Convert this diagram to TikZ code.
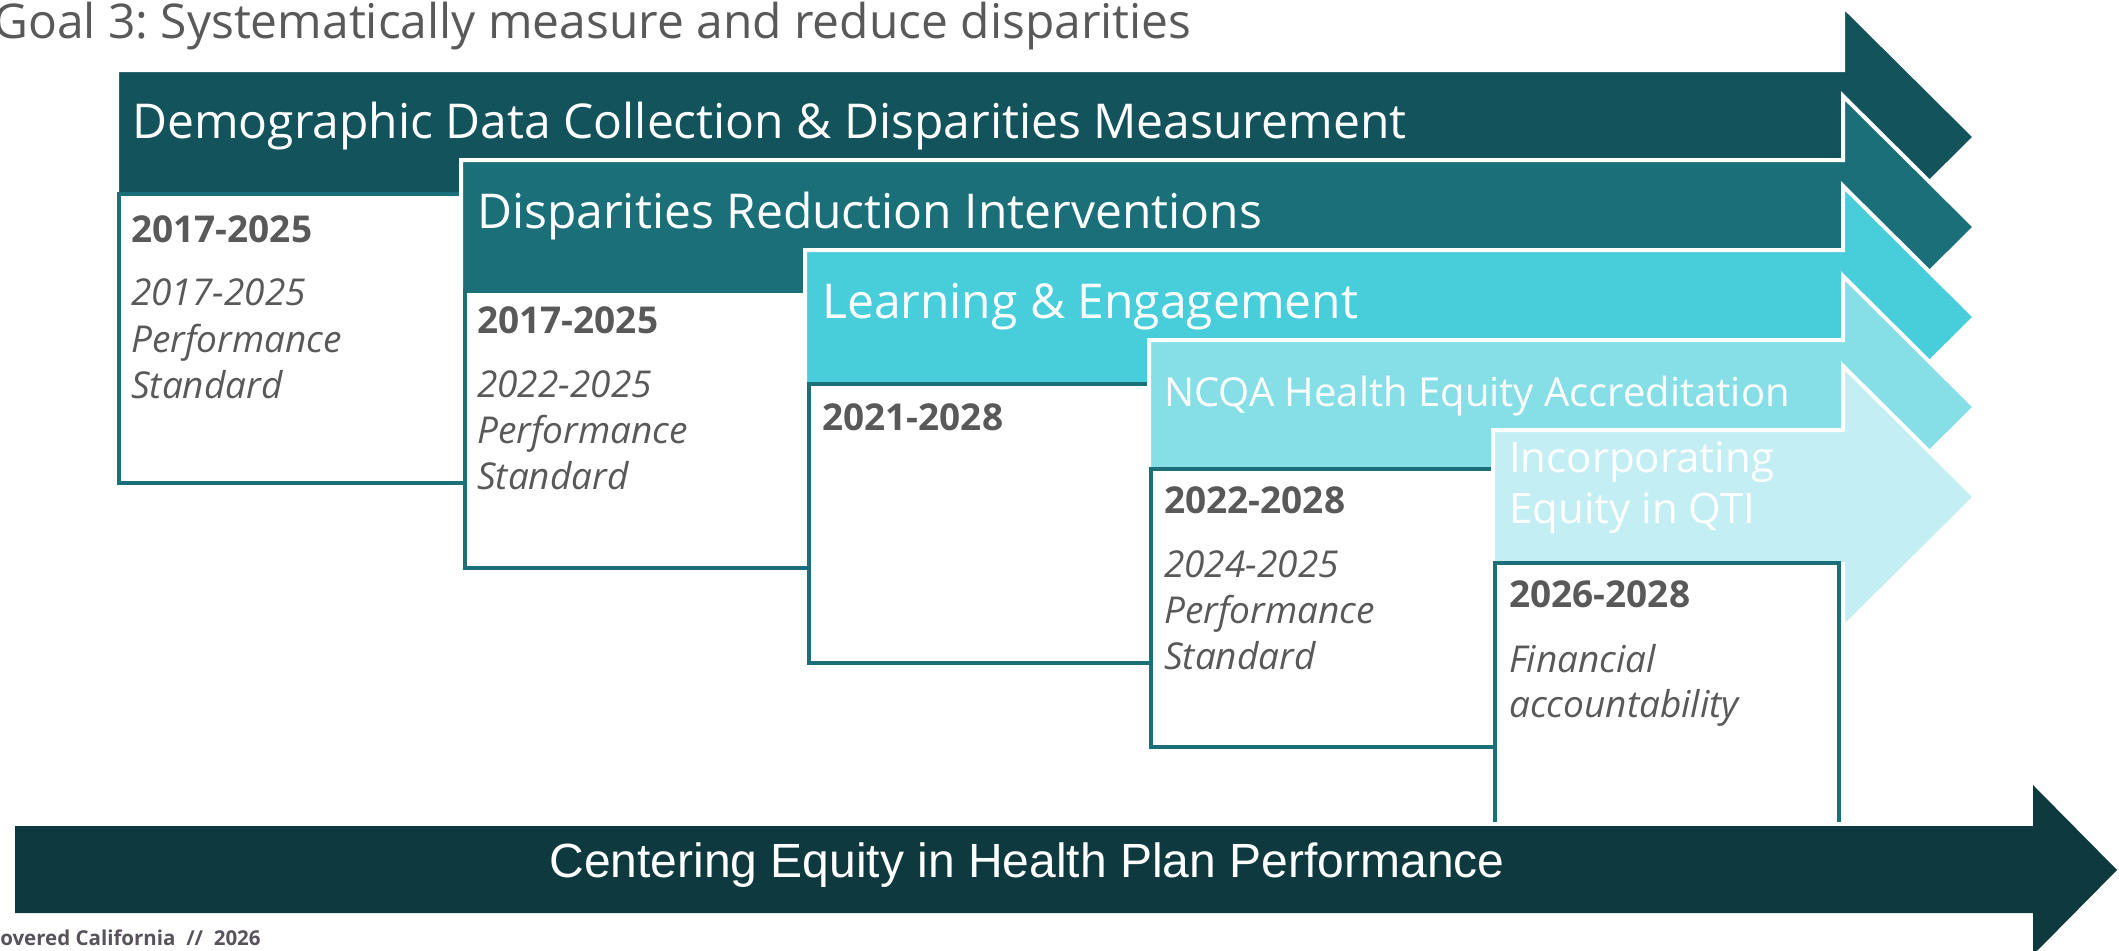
\documentclass[tikz,border=0pt]{standalone}
\usepackage{fontspec}
\setmainfont{Open Sans}
\newfontfamily\arialf{Liberation Sans}
\frenchspacing
\definecolor{bandA}{HTML}{13535C}
\definecolor{bandB}{HTML}{1A6F79}
\definecolor{bandC}{HTML}{48CDDB}
\definecolor{bandD}{HTML}{86DFE7}
\definecolor{bandE}{HTML}{C3EEF3}
\definecolor{boxc}{HTML}{1B6F78}
\definecolor{bottomc}{HTML}{0E393F}
\definecolor{txtgray}{HTML}{595959}
\definecolor{footgray}{HTML}{58535A}
\newcommand{\bandarrow}[4]{%
  \filldraw[band, fill=#3] ({#1},{#2-67}) -- (1843,{#2-67}) -- (1843,{#2-131}) -- (1975,{#2}) -- (1843,{#2+131}) -- (1843,{#2+67}) -- ({#1},{#2+67}) -- cycle;}
\tikzset{
  band/.style={draw=white, line width=4pt, line join=miter},
  boxline/.style={draw=boxc, line width=4pt, fill=white},
  bandtxt/.style={anchor=base west, inner sep=0pt, text=white, font=\fontsize{48}{58}\selectfont},
  bandtxtsm/.style={anchor=base west, inner sep=0pt, text=white, font=\fontsize{42}{51}\selectfont},
  yearb/.style={anchor=base west, inner sep=0pt, text=txtgray, font=\fontsize{37}{46}\selectfont\bfseries},
  yeari/.style={anchor=base west, inner sep=0pt, text=txtgray, font=\fontsize{37}{46}\selectfont\itshape},
}
\begin{document}
\begin{tikzpicture}[x=1pt,y=-1pt]
\useasboundingbox (0,0) rectangle (2119,950);
\node[anchor=base west, inner sep=0pt, text=txtgray, font=\fontsize{47.9}{56}\selectfont] (title) at (-7,38) {Goal 3: Systematically measure and reduce disparities};
% arrow 1 and box 1
\bandarrow{117}{137}{bandA}{}
\node[bandtxt] (t1) at (132,138) {Demographic Data Collection \& Disparities Measurement};
\draw[boxline] (119,194) rectangle (465,483);
\node[yearb] (y1) at (131,242) {2017-2025};
\node[yeari] (i1a) at (131,305) {2017-2025};
\node[yeari] (i1b) at (131,352) {Performance};
\node[yeari] (i1c) at (131,398) {Standard};
% arrow 2 and box 2
\bandarrow{461}{227}{bandB}{}
\node[bandtxt] (t2) at (477,228) {Disparities Reduction Interventions};
\draw[boxline] (465,291) rectangle (809,568);
\node[yearb] (y2) at (477,333) {2017-2025};
\node[yeari] (i2a) at (477,397) {2022-2025};
\node[yeari] (i2b) at (477,443) {Performance};
\node[yeari] (i2c) at (477,489) {Standard};
% arrow 3 and box 3
\bandarrow{805}{317}{bandC}{}
\node[bandtxt] (t3) at (822,318) {Learning \& Engagement};
\draw[boxline] (809,384) rectangle (1151,663);
\node[yearb] (y3) at (822,430) {2021-2028};
% arrow 4 and box 4
\bandarrow{1149}{407}{bandD}{}
\node[bandtxtsm, font=\fontsize{40}{48}\selectfont] (t4) at (1164,406) {NCQA Health Equity Accreditation};
\draw[boxline] (1151,469) rectangle (1495,747);
\node[yearb] (y4) at (1164,513) {2022-2028};
\node[yeari] (i4a) at (1164,577) {2024-2025};
\node[yeari] (i4b) at (1164,623) {Performance};
\node[yeari] (i4c) at (1164,669) {Standard};
% arrow 5 and box 5
\bandarrow{1493}{497}{bandE}{}
\node[bandtxtsm] (t5a) at (1509,472) {Incorporating};
\node[bandtxtsm] (t5b) at (1509,523) {Equity in QTI};
\filldraw[boxline] (1495,822) -- (1495,563) -- (1839,563) -- (1839,822);
\node[yearb] (y5) at (1509,607) {2026-2028};
\node[yeari] (i5a) at (1509,672) {Financial};
\node[yeari] (i5b) at (1509,717) {accountability};
% bottom arrow
\fill[bottomc] (15,826) -- (2033,826) -- (2033,785) -- (2117,870) -- (2033,955) -- (2033,913) -- (15,913) -- cycle;
\node[anchor=base, inner sep=0pt, text=white, font=\arialf\fontsize{48}{57}\selectfont] (bottomtxt) at (1027,877) {Centering Equity in Health Plan Performance};
\node[anchor=base west, inner sep=0pt, text=footgray, font=\fontsize{20.5}{25}\selectfont\bfseries] (foot) at (-13,945) {Covered California\ \ //\ \ 2026};
\end{tikzpicture}
\end{document}
